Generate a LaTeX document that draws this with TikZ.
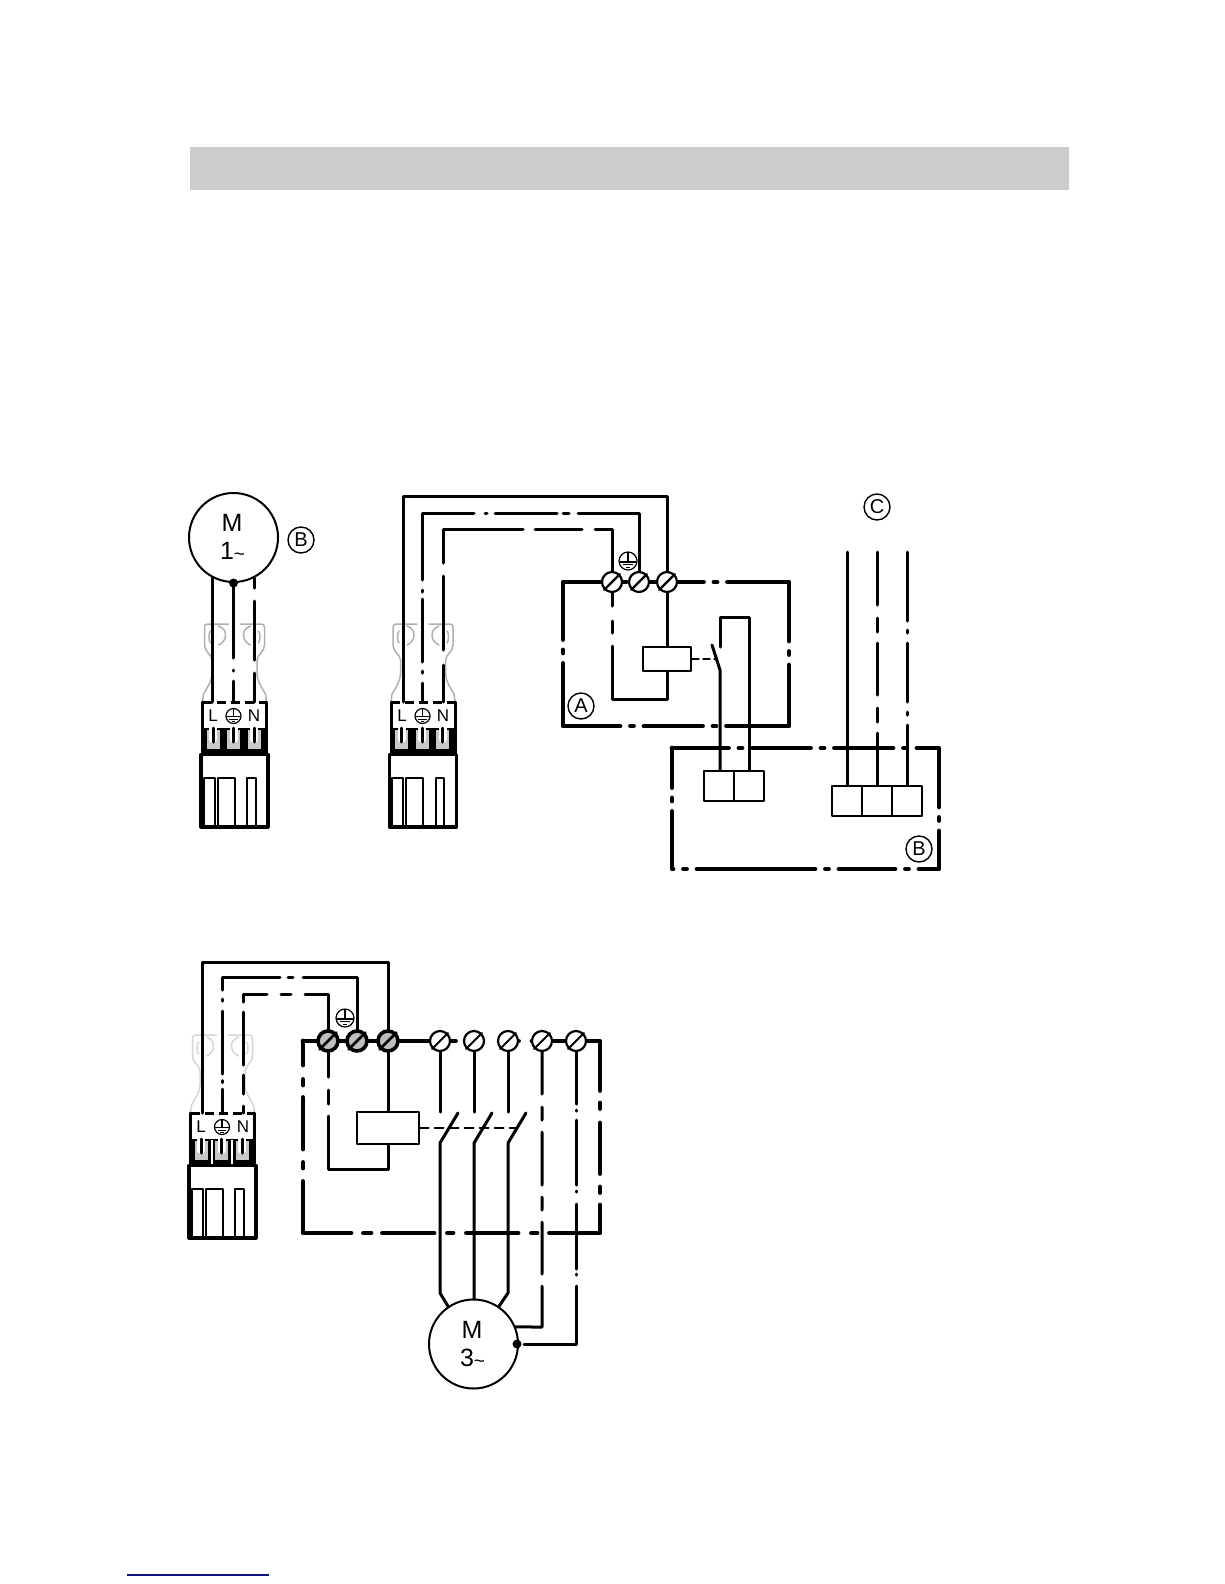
\documentclass[tikz,border=0pt]{standalone}
\usepackage{fontspec}
\setmainfont{Liberation Sans}
\usetikzlibrary{backgrounds}
\definecolor{barcol}{HTML}{CCCCCC}
\definecolor{clipcol}{HTML}{B0B0B0}
\definecolor{cliplight}{HTML}{D6D6D6}
\definecolor{windowcol}{HTML}{C8C8C8}
\definecolor{termcol}{HTML}{BEBEBE}
\definecolor{rulecol}{HTML}{10107F}
\newcommand{\lowtilde}{{\fontsize{19}{19}\selectfont\raisebox{-1pt}{\textasciitilde}}}
\tikzset{
	wire/.style={line width=3pt},
	frame/.style={line width=4.8pt},
	motor/.style={circle, draw, line width=2pt, fill=white, inner sep=0pt, minimum size=89pt, align=center, font=\fontsize{25}{28}\selectfont},
	letter/.style={circle, draw, line width=1.4pt, inner sep=0pt, minimum size=26pt, font=\fontsize{20}{20}\selectfont},
	term/.style={circle, draw, line width=2.2pt, fill=white, inner sep=0pt, minimum size=20pt},
	termgray/.style={term, line width=3.6pt, fill=termcol},
	box/.style={rectangle, draw, line width=2pt, fill=white, inner sep=0pt, minimum width=#1, minimum height=30pt},
	junction/.style={circle, fill=black, inner sep=0pt, minimum size=9pt},
	pinlabel/.style={inner sep=0pt, font=\fontsize{17}{17}\selectfont},
}
\begin{document}
\begin{tikzpicture}[x=1pt, y=-1pt, line join=round, line cap=round]
	\useasboundingbox (0,0) rectangle (1224,1584);
	% motors and letters
	\node[motor] (motorB) at (233.5,537.5) {\hspace*{-3pt}M\\\hspace*{-2pt}1\lowtilde};
	\node[motor] (motorM) at (473.5,1344) {\hspace*{-3pt}M\\\hspace*{-2pt}3\lowtilde};
	\node[letter] (letterB) at (301,540) {B};
	\node[letter] (letterA) at (581,706) {A};
	\node[letter] (letterC) at (877,507) {C};
	\node[letter] (letterD) at (919,849) {B};
	\node[junction] (dotB) at (motorB.south) {};
	\node[junction] (dotM) at (517,1344) {};
	% terminals
	\foreach \n/\tx in {1/612, 2/639, 3/667}{
		\node[term] (tA\n) at (\tx,582) {};
		\draw[line width=2.4pt] (tA\n.225) -- (tA\n.45);
	}
	\foreach \n/\tx in {1/328, 2/357, 3/388}{
		\node[termgray] (tC\n) at (\tx,1041) {};
		\draw[line width=2.6pt] (tC\n.225) -- (tC\n.45);
	}
	\foreach \n/\tx in {4/440, 5/474, 6/508, 7/542, 8/576}{
		\node[term] (tC\n) at (\tx,1041) {};
		\draw[line width=2pt] (tC\n.225) -- (tC\n.45);
	}
	% relays and blocks
	\node[box=48pt, minimum height=24pt] (coilA) at (667,659) {};
	\node[box=62pt, minimum height=32pt] (coilC) at (387.5,1128) {};
	\node[box=30pt] (blockA1) at (719,786) {};
	\node[box=30pt] (blockA2) at (749,786) {};
	\node[box=30.3pt] (blockB1) at (847,801) {};
	\node[box=30.3pt] (blockB2) at (877,801) {};
	\node[box=30.3pt] (blockB3) at (907.3,801) {};
	% earth signs
	\foreach \n/\ex/\ey/\er in {eA/628/561/9, eC/345/1018/9, eP1/233.5/716/7.5, eP2/422.5/716/7.5, eP3/222/1127/7.5}{
		\node[circle, draw, line width=1.2pt, inner sep=0pt, minimum size=2*\er pt] (\n) at (\ex,\ey) {};
		\draw[line width=1.2pt, line cap=butt] (\ex,\ey-\er) -- (\ex,\ey+0.1*\er)
			(\ex-0.9*\er,\ey+0.1*\er) -- (\ex+0.9*\er,\ey+0.1*\er)
			(\ex-0.55*\er,\ey+0.42*\er) -- (\ex+0.55*\er,\ey+0.42*\er)
			(\ex-0.25*\er,\ey+0.72*\er) -- (\ex+0.25*\er,\ey+0.72*\er);
	}
	% plug labels
	\foreach \n/\lx/\ly in {1/213/716, 2/402/716, 3/201/1127}{
		\node[pinlabel] (pinL\n) at (\lx,\ly) {L};
	}
	\foreach \n/\lx/\ly in {1/254/716, 2/443/716, 3/243/1127}{
		\node[pinlabel] (pinN\n) at (\lx,\ly) {N};
	}
	\begin{scope}[on background layer={line join=round, line cap=round}]
		\fill[white] (0,0) rectangle (1224,1584);
		\fill[barcol] (190,147) rectangle (1069,190);
		\draw[rulecol, line width=1.1pt, line cap=butt] (127,1575) -- (269,1575);
		% plugs
		\foreach \cx/\cy/\clipc/\sepc in {234.5/702/clipcol/black, 423/702/clipcol/black, 222.5/1113/cliplight/white}{
			\begin{scope}[shift={(\cx,\cy)}]
				\foreach \sgn in {1,-1}{
					\begin{scope}[xscale=\sgn]
						\draw[\clipc, line width=1.5pt] (-32,0) -- (-31,-8) .. controls (-27,-15) and (-23,-20) .. (-22.5,-28) -- (-22.5,-42) .. controls (-23,-48) and (-30,-50) .. (-30,-57) -- (-30,-73) .. controls (-30,-77) and (-29,-78) .. (-27,-78) -- (-6,-78);
						\draw[\clipc, line width=1.5pt] (-16,-76) .. controls (-11,-74) and (-9,-71) .. (-9,-67) .. controls (-9,-62) and (-12,-59) .. (-16,-57);
						\draw[\clipc, line width=1.5pt] (-24,-71) .. controls (-26,-69) and (-26,-61) .. (-24,-59);
					\end{scope}
				}
				\fill[white] (-32,0) rectangle (32,28);
				\draw[line width=3pt, line cap=butt, dash pattern=on 9pt off 5pt] (-32,0) -- (32,0);
				\draw[line width=3pt] (-32,0) -- (-32,52) (32,0) -- (32,52);
				\fill (-32,26) rectangle (32,52);
				\foreach \wx in {-21.5,-1,19.5}{
					\fill[windowcol] (\wx-6.5,28) rectangle (\wx+6.5,47);
					\draw[white, line width=8pt] (\wx,25) -- (\wx,37);
					\draw[wire] (\wx,26) -- (\wx,40);
				}
				\draw[\sepc, line width=1.5pt, line cap=butt] (-10.5,27) -- (-10.5,51) (9.5,27) -- (9.5,51);
				\draw[line width=3.2pt] (-33.5,52.5) rectangle (33.5,125);
				\draw[line width=2pt] (-31,76) rectangle (-20,125) (-17,76) rectangle (0,125) (12.5,76) rectangle (21,125);
			\end{scope}
		}
		% wires of the first plug
		\draw[wire] (motorB.242) -- (motorB.242 |- 0,702);
		\draw[wire, dash pattern=on 75pt off 12pt on 1pt off 10pt on 22pt] (dotB.center) -- (dotB.center |- 0,702);
		\draw[wire, dash pattern=on 10pt off 13pt on 59pt off 13pt on 30pt] (motorB.-63) -- (motorB.-63 |- 0,702);
		% wires of the second plug
		\draw[wire] (403,702) -- (403,496) -- (tA3 |- 0,496) -- (tA3.center) -- (coilA.north);
		\draw[wire, dash pattern=on 19pt off 10pt on 2pt off 9pt on 63pt off 7pt on 2pt off 10pt on 119pt off 11pt on 2pt off 8pt on 62pt off 6pt on 6pt off 9pt on 130pt] (422,702) -- (422,513) -- (tA2 |- 0,513) -- (tA2.center);
		\draw[wire, dash pattern=on 37pt off 15pt on 74pt off 13pt on 114pt off 12pt on 47pt off 13pt on 94pt off 15pt on 12pt off 13pt on 150pt] (443,702) -- (443,529) -- (tA1 |- 0,529) -- (tA1.center) -- (tA1 |- 0,699) -- (coilA.south |- 0,699) -- (coilA.south);
		% relay contact
		\draw[line width=1.1pt, dash pattern=on 7pt off 4pt] (coilA.east) -- (717,659);
		\draw[wire] (712,645) -- (720,670) -- (blockA1.north -| 720,0);
		\draw[wire] (720,647) -- (720,617) -- (blockA2.north |- 0,617) -- (blockA2.north);
		% wires to the second block
		\draw[wire] (blockB1.north |- 0,552) -- (blockB1.north);
		\draw[wire, dash pattern=on 53pt off 13pt on 14pt off 11pt on 52pt off 13pt on 14pt off 11pt on 60pt] (blockB2.north |- 0,552) -- (blockB2.north);
		\draw[wire, dash pattern=on 69pt off 9pt on 3pt off 10pt on 59pt off 10pt on 3pt off 10pt on 60pt] (blockB3.north |- 0,552) -- (blockB3.north);
		% frames
		\draw[frame, dash pattern=on 36.5pt off 10.5pt on 3pt off 10.5pt on 120.5pt off 10.5pt on 3pt off 10.5pt on 123.5pt off 10.5pt on 3pt off 10.5pt on 58.5pt off 10.5pt on 3pt off 10.5pt on 119.5pt off 10.5pt on 3pt off 10.5pt on 120.5pt off 7.5pt on 50pt] (tA3.center) -- (789,582) -- (789,726) -- (563,726) -- (563,582) -- (tA3.center);
		\draw[frame, dash pattern=on 56.5pt off 10.5pt on 3pt off 10.5pt on 58pt off 10.5pt on 3pt off 10.5pt on 58.5pt off 10.5pt on 3pt off 10.5pt on 81pt off 10.5pt on 3pt off 10.5pt on 58pt off 10.5pt on 3pt off 10.5pt on 56pt off 10.5pt on 3pt off 10.5pt on 118pt off 10.5pt on 3pt off 10.5pt on 58.5pt off 10.5pt on 3pt off 10.5pt on 40pt] (672,748) -- (939,748) -- (939,869) -- (672,869) -- (672,748);
		\draw[frame, dash pattern=on 152.5pt off 60.5pt on 2.5pt off 13.5pt on 117.5pt off 12.5pt on 5.5pt off 14.5pt on 50.5pt off 13.5pt on 5.5pt off 12.5pt on 78.5pt off 12.5pt on 5.5pt off 13.5pt on 51.5pt off 13.5pt on 5.5pt off 13.5pt on 51.5pt off 11.5pt on 7.5pt off 12.5pt on 99.5pt off 13.5pt on 5.5pt off 13.5pt on 51.5pt off 12.5pt on 5.5pt off 14.5pt on 25pt] (303,1041) -- (600,1041) -- (600,1233) -- (303,1233) -- (303,1041);
		% wires of the third plug
		\draw[wire] (202,1113) -- (202,962) -- (tC3 |- 0,962) -- (tC3.center) -- (tC3 |- coilC.north);
		\draw[wire, dash pattern=on 24pt off 6.5pt on 2pt off 6.5pt on 63pt off 10pt on 2pt off 9pt on 71pt off 8pt on 5pt off 10pt on 118pt] (222,1113) -- (222,977) -- (tC2 |- 0,977) -- (tC2.center);
		\draw[wire, dash pattern=on 7pt off 12pt on 19pt off 10pt on 53pt off 10pt on 32pt off 14pt on 10pt off 14pt on 106pt off 13pt on 14pt off 12pt on 150pt] (243,1113) -- (243,994) -- (tC1 |- 0,994) -- (tC1 |- 0,1169) -- (tC3 |- 0,1169) -- (tC3 |- coilC.south);
		% three pole contact
		\draw[line width=2pt, dash pattern=on 9pt off 6pt] (coilC.east) -- (517,1128);
		\draw[wire] (tC4.center) -- (440,1112);
		\draw[wire] (tC5.center) -- (474,1112);
		\draw[wire] (tC6.center) -- (508,1112);
		\draw[wire] (458,1113) -- (440,1143) -- (440,1293) -- (motorM.124);
		\draw[wire] (492,1113) -- (474,1143) -- (motorM.north -| 474,0);
		\draw[wire] (526,1113) -- (508,1143) -- (508,1293) -- (motorM.56);
		\draw[wire, dash pattern=on 53pt off 13pt on 13pt off 12pt on 53pt off 12pt on 13pt off 12pt on 52pt off 12pt on 100pt] (tC7.center) -- (542,1327) -- (motorM.22.5);
		\draw[wire, dash pattern=on 63pt off 6pt on 1pt off 9pt on 65pt off 6pt on 1pt off 12pt on 65pt off 5pt on 1pt off 11pt on 110pt] (tC8.center) -- (576,1344) -- (dotM.center);
	\end{scope}
\end{tikzpicture}
\end{document}
